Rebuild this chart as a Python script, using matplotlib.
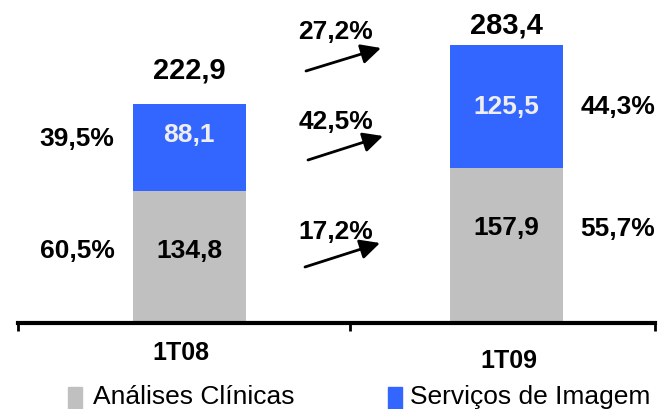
import matplotlib
matplotlib.use("Agg")
import matplotlib.pyplot as plt
from matplotlib.patches import Rectangle

plt.rcParams['font.family'] = ['Liberation Sans', 'DejaVu Sans']

periods = ['1T08', '1T09']
analises = [134.8, 157.9]
imagem = [88.1, 125.5]
totals = [222.9, 283.4]
share_analises = ['60,5%', '55,7%']
share_imagem = ['39,5%', '44,3%']
growth = ['27,2%', '42,5%', '17,2%']   # total, imagem, analises
series = ['Análises Clínicas', 'Serviços de Imagem']
colors = ['#C0C0C0', '#3366FF']

W, H = 660, 410
fig = plt.figure(figsize=(W / 100, H / 100), dpi=100)
ax = fig.add_axes([18 / W, 1 - 324 / H, 637 / W, 324 / H])

def px(x, y):
    # pixel position -> figure fraction
    return x / W, 1 - y / H

xpos = [0.538, 1.533]
width = 0.355
ax.bar(xpos, analises, width, color=colors[0], label=series[0])
ax.bar(xpos, imagem, width, bottom=analises, color=colors[1], label=series[1])

ax.set_xlim(0, 2)
ax.set_ylim(0, 330)
for s in ['left', 'right', 'top']:
    ax.spines[s].set_visible(False)
ax.spines['bottom'].set_linewidth(3)
ax.set_yticks([])
ax.set_xticks([0, 1.042, 2])
ax.set_xticklabels([])
ax.tick_params(axis='x', direction='out', length=6, width=2)

def fmt(v):
    return f'{v:.1f}'.replace('.', ',')

bold = dict(ha='center', va='center', fontweight='bold')
cx = [189, 506]
# values inside the bars and totals on top
for i in range(2):
    fig.text(*px(cx[i], [251, 228][i]), fmt(analises[i]), fontsize=19, color='black', **bold)
    fig.text(*px(cx[i], [135, 107][i]), fmt(imagem[i]), fontsize=19, color='#EEEEEE', **bold)
    fig.text(*px(cx[i], [71, 25][i]), fmt(totals[i]), fontsize=21, **bold)

# shares beside each bar
fig.text(*px(77, 251), share_analises[0], fontsize=19, **bold)
fig.text(*px(77, 139), share_imagem[0], fontsize=19, **bold)
fig.text(*px(618, 229), share_analises[1], fontsize=19, **bold)
fig.text(*px(618, 107), share_imagem[1], fontsize=19, **bold)

# growth arrows between the periods
rows = [(32, (306, 72), (381, 49)), (122, (308, 161), (383, 137)), (232, (305, 268), (380, 244))]
for g, (ty, p0, p1) in zip(growth, rows):
    fig.text(*px(336, ty), g, fontsize=19, **bold)
    ax.annotate('', xy=px(*p1), xytext=px(*p0),
                xycoords='figure fraction', textcoords='figure fraction',
                arrowprops=dict(arrowstyle='-|>,head_length=0.6,head_width=0.3',
                                mutation_scale=20, color='black', lw=2,
                                shrinkA=0, shrinkB=0))

# period labels
fig.text(*px(181, 353), periods[0], fontsize=18, **bold)
fig.text(*px(509, 361), periods[1], fontsize=18, **bold)

# legend
for (x0, tx), name, c in zip([(68, 93), (388, 410)], series, colors):
    fig.patches.append(Rectangle(px(x0, 410), 14 / W, 22 / H,
                                 transform=fig.transFigure, color=c))
    fig.text(*px(tx, 397), name, ha='left', va='center', fontsize=19)

fig.savefig('out.png', dpi=100)
